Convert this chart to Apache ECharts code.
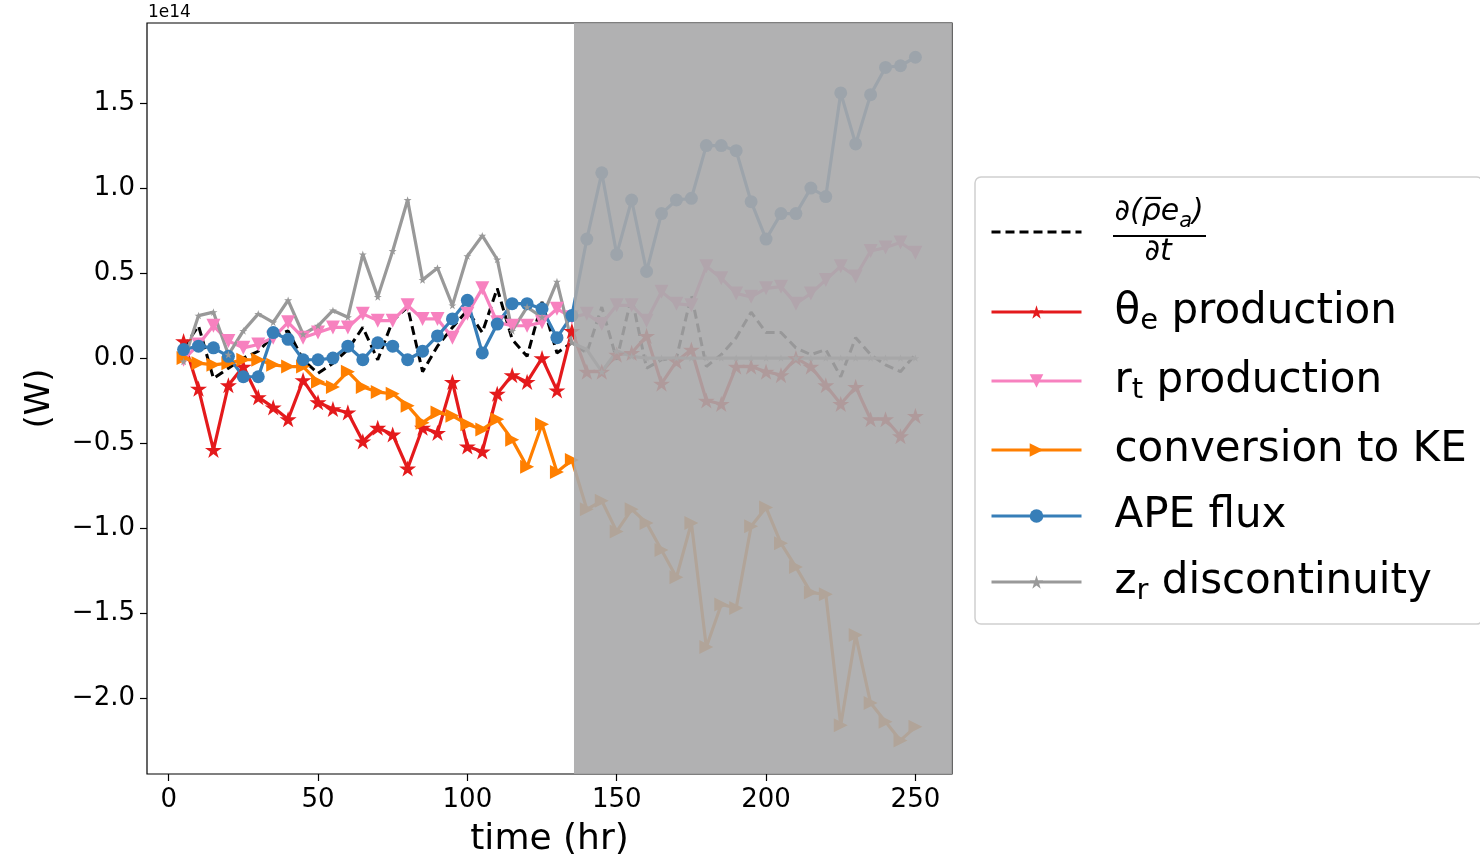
<!DOCTYPE html>
<html>
<head>
    <meta charset="utf-8">
    <title>APE budget</title>
    <script src="https://cdn.jsdelivr.net/npm/echarts@6/dist/echarts.min.js"></script>
    <style>
        html, body { margin: 0; padding: 0; background: #fff; }
        #main { width: 1480px; height: 855px; }
    </style>
</head>
<body>
<div id="main"></div>
<script type="text/javascript">
    // time axis (hr)
    var hours = [5, 10, 15, 20, 25, 30, 35, 40, 45, 50, 55, 60, 65, 70, 75, 80, 85, 90, 95, 100,
        105, 110, 115, 120, 125, 130, 135, 140, 145, 150, 155, 160, 165, 170, 175, 180, 185, 190, 195, 200,
        205, 210, 215, 220, 225, 230, 235, 240, 245, 250];

    // values in units of 1e14 W
    var dEdt = [0.06, 0.19, -0.12, -0.06, 0.00, 0.04, 0.13, 0.16, -0.01, -0.09, -0.03, 0.05, 0.18, -0.01, 0.22, 0.30, -0.08, 0.07, 0.18, 0.28,
        0.15, 0.41, 0.11, 0.01, 0.33, 0.03, 0.09, 0.03, 0.30, -0.01, 0.36, -0.06, -0.01, 0.00, 0.37, -0.05, 0.02, 0.12, 0.27, 0.15,
        0.15, 0.06, 0.02, 0.05, -0.11, 0.12, 0.02, -0.04, -0.08, 0.02];
    var thetaProd = [0.10, -0.18, -0.54, -0.16, -0.05, -0.23, -0.29, -0.36, -0.13, -0.26, -0.30, -0.32, -0.49, -0.41, -0.45, -0.65, -0.41, -0.44, -0.14, -0.52,
        -0.55, -0.21, -0.10, -0.14, 0.00, -0.19, 0.16, -0.08, -0.08, 0.02, 0.03, 0.13, -0.15, -0.02, 0.05, -0.25, -0.27, -0.05, -0.05, -0.08,
        -0.10, 0.00, -0.05, -0.16, -0.27, -0.17, -0.36, -0.36, -0.46, -0.34];
    var rtProd = [-0.01, 0.08, 0.19, 0.10, 0.06, 0.08, 0.12, 0.21, 0.12, 0.15, 0.18, 0.18, 0.26, 0.22, 0.22, 0.31, 0.23, 0.23, 0.12, 0.26,
        0.41, 0.21, 0.19, 0.19, 0.21, 0.29, 0.24, 0.26, 0.20, 0.31, 0.31, 0.22, 0.39, 0.32, 0.31, 0.54, 0.47, 0.38, 0.36, 0.41,
        0.42, 0.32, 0.38, 0.46, 0.54, 0.48, 0.63, 0.65, 0.68, 0.62];
    var convKE = [0.00, -0.03, -0.04, -0.03, -0.01, -0.01, -0.04, -0.05, -0.05, -0.14, -0.17, -0.08, -0.17, -0.20, -0.21, -0.28, -0.38, -0.32, -0.34, -0.39,
        -0.42, -0.36, -0.48, -0.64, -0.39, -0.67, -0.60, -0.89, -0.84, -1.02, -0.89, -0.97, -1.13, -1.29, -0.97, -1.70, -1.45, -1.47, -0.99, -0.88,
        -1.09, -1.23, -1.38, -1.39, -2.16, -1.63, -2.03, -2.14, -2.25, -2.17];
    var apeFlux = [0.05, 0.07, 0.06, 0.01, -0.11, -0.11, 0.15, 0.11, -0.01, -0.01, 0.00, 0.07, -0.01, 0.09, 0.07, -0.01, 0.04, 0.13, 0.23, 0.34,
        0.03, 0.20, 0.32, 0.32, 0.29, 0.12, 0.25, 0.70, 1.09, 0.61, 0.93, 0.51, 0.85, 0.93, 0.94, 1.25, 1.25, 1.22, 0.92, 0.70,
        0.85, 0.85, 1.00, 0.95, 1.56, 1.26, 1.55, 1.71, 1.72, 1.77];
    var zrDisc = [-0.02, 0.25, 0.27, 0.02, 0.16, 0.26, 0.21, 0.34, 0.14, 0.19, 0.28, 0.24, 0.61, 0.36, 0.63, 0.93, 0.46, 0.53, 0.31, 0.60,
        0.72, 0.58, 0.16, 0.30, 0.24, 0.45, 0.09, 0.05, -0.08, 0.04, 0.01, 0.00, 0.00, 0.00, 0.00, 0.00, 0.00, 0.00, 0.00, 0.00,
        0.00, 0.00, 0.00, 0.00, 0.00, 0.00, 0.00, 0.00, 0.00, 0.00];

    var xTicks = [0, 50, 100, 150, 200, 250];
    var yTicks = [-2.0, -1.5, -1.0, -0.5, 0.0, 0.5, 1.0, 1.5];
    var shadeStart = 135.7;

    var font = 'DejaVu Sans';

    function pairs(vals) {
        return hours.map(function (h, i) { return [h, vals[i]]; });
    }

    // matplotlib style 5-point star
    function starPath() {
        var pts = [];
        for (var i = 0; i < 10; i++) {
            var a = -Math.PI / 2 + i * Math.PI / 5;
            var r = i % 2 === 0 ? 50 : 19.1;
            pts.push((50 + r * Math.cos(a)).toFixed(2) + ' ' + (50 + r * Math.sin(a)).toFixed(2));
        }
        return 'path://M' + pts.join(' L') + ' Z';
    }
    var star = starPath();

    function lineSeries(name, vals, color, symbol, size, rotate) {
        return {
            name: name,
            type: 'line',
            data: pairs(vals),
            symbol: symbol,
            symbolSize: size,
            symbolRotate: rotate || 0,
            symbolKeepAspect: true,
            showAllSymbol: true,
            lineStyle: { color: color, width: 3.2 },
            itemStyle: { color: color, borderWidth: 0 },
            emphasis: { disabled: true }
        };
    }

    var labels = {
        dEdt: '{fn|∂(ρ̅e}{fs|a}{fn|)}\n{fd|∂t}',
        theta: '{t|θ}{s|e}{t| production}',
        rt: '{t|r}{s|t}{t| production}',
        conv: '{t|conversion to KE}',
        ape: '{t|APE flux}',
        zr: '{t|z}{s|r}{t| discontinuity}'
    };

    var myChart = echarts.init(document.getElementById('main'), null, { renderer: 'canvas' });

    var option = {
        animation: false,
        backgroundColor: '#fff',
        grid: {
            left: 147, top: 23, right: 528, bottom: 81,
            outerBoundsMode: 'none',
            containLabel: false,
            show: true, borderColor: '#000', borderWidth: 1.2, backgroundColor: '#fff'
        },
        xAxis: {
            type: 'value',
            min: -7.25, max: 262.25,
            name: 'time (hr)',
            nameLocation: 'middle',
            nameGap: 48,
            nameTextStyle: { fontFamily: font, fontSize: 36, color: '#000', verticalAlign: 'top' },
            splitLine: { show: false },
            axisLine: { show: false, onZero: false },
            axisTick: { show: true, length: 7, lineStyle: { color: '#000', width: 1.2 }, customValues: xTicks },
            axisLabel: { fontFamily: font, fontSize: 26, color: '#000', margin: 13, customValues: xTicks,
                formatter: function (v) { return String(v); } }
        },
        yAxis: {
            type: 'value',
            min: -2.4475, max: 1.9715,
            name: '(W)',
            nameLocation: 'middle',
            nameGap: 90,
            nameRotate: 90,
            nameTextStyle: { fontFamily: font, fontSize: 34, color: '#000' },
            splitLine: { show: false },
            axisLine: { show: false, onZero: false },
            axisTick: { show: true, length: 7, lineStyle: { color: '#000', width: 1.2 }, customValues: yTicks },
            axisLabel: { fontFamily: font, fontSize: 26, color: '#000', margin: 12, customValues: yTicks,
                formatter: function (v) { return v.toFixed(1).replace('-', '\u2212'); } }
        },
        legend: {
            orient: 'vertical',
            left: 975, top: 177,
            padding: [20, 16, 18, 15],
            backgroundColor: '#fff',
            borderColor: '#cfcfcf', borderWidth: 1.5, borderRadius: 6,
            itemWidth: 90, itemHeight: 17, itemGap: 24,
            lineStyle: { width: 3 },
            data: [
                { name: 'dEdt', itemStyle: { color: 'transparent', opacity: 0 } },
                'theta', 'rt', 'conv', 'ape', 'zr'
            ],
            formatter: function (name) { return labels[name]; },
            textStyle: {
                color: '#000',
                padding: [0, 0, 0, 28],
                rich: {
                    t: { fontFamily: font, fontSize: 42, lineHeight: 48, color: '#000' },
                    s: { fontFamily: font, fontSize: 29, lineHeight: 40, verticalAlign: 'bottom', color: '#000' },
                    fn: { fontFamily: font, fontSize: 30, fontStyle: 'italic', lineHeight: 40, color: '#000' },
                    fs: { fontFamily: font, fontSize: 21, fontStyle: 'italic', lineHeight: 32, verticalAlign: 'bottom', color: '#000' },
                    fd: { fontFamily: font, fontSize: 30, fontStyle: 'italic', lineHeight: 40, color: '#000', padding: [0, 0, 0, 30] }
                }
            }
        },
        graphic: [
            { type: 'text', left: 148, top: 4, style: { text: '1e14', fontFamily: font, fontSize: 17, fill: '#000' } },
            { type: 'line', shape: { x1: 1113, y1: 236, x2: 1206, y2: 236 }, style: { stroke: '#000', lineWidth: 2 }, z: 100 }
        ],
        series: [
            {
                name: 'dEdt', type: 'line', data: pairs(dEdt), symbol: 'none',
                lineStyle: { color: '#000', width: 3, type: [9, 5] },
                itemStyle: { color: '#000' },
                emphasis: { disabled: true }
            },
            lineSeries('theta', thetaProd, '#e41a1c', star, 17),
            lineSeries('rt', rtProd, '#f781bf', 'triangle', 14, 180),
            lineSeries('conv', convKE, '#ff7f00', 'triangle', 14, -90),
            lineSeries('ape', apeFlux, '#377eb8', 'circle', 13),
            lineSeries('zr', zrDisc, '#999999', star, 8),
            {
                name: 'shade', type: 'line', data: [],
                markArea: {
                    silent: true, z: 10,
                    itemStyle: { color: 'rgba(168,168,170,0.9)' },
                    data: [[{ xAxis: shadeStart }, { xAxis: 262.25 }]]
                }
            }
        ]
    };

    myChart.setOption(option);
</script>
</body>
</html>
